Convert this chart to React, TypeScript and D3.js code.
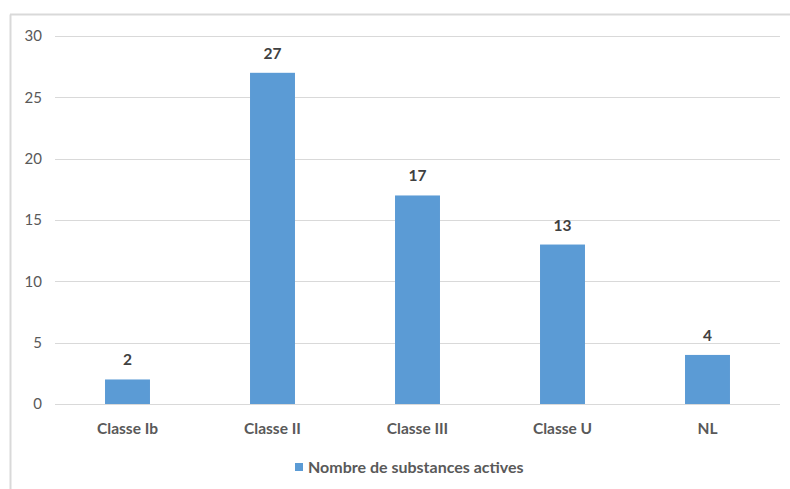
import React from "react";
import * as d3 from "d3";

const categories = ["Classe Ib", "Classe II", "Classe III", "Classe U", "NL"];
const values = [2, 27, 17, 13, 4];
const yTicks = [0, 5, 10, 15, 20, 25, 30];
const seriesName = "Nombre de substances actives";

export default function App() {
  const W = 790, H = 489;
  const left = 55, right = 780, top = 36, bottom = 404;
  const x = d3.scaleBand<string>().domain(categories).range([left, right]).paddingInner(0.69).paddingOuter(0.345);
  const y = d3.scaleLinear().domain([0, 30]).range([bottom, top]);
  const font = "Lato, 'Open Sans', sans-serif";
  return (
    <svg width={W} height={H} style={{ position: "absolute", left: 0, top: 0 }}>
      <rect x={0} y={0} width={W} height={H} fill="#fff" />
      <line x1={10.5} y1={14.5} x2={10.5} y2={H} stroke="#d9d9d9" strokeWidth={2} />
      <line x1={10} y1={14.5} x2={W} y2={14.5} stroke="#d9d9d9" strokeWidth={2} />
      {yTicks.map((t) => (
        <g key={t}>
          <line x1={left} x2={right} y1={Math.round(y(t)) + 0.5} y2={Math.round(y(t)) + 0.5} stroke="#d9d9d9" strokeWidth={1} />
          <text x={42} y={y(t)} dy="0.35em" textAnchor="end" fontFamily={font} fontSize={15} fill="#595959">{t}</text>
        </g>
      ))}
      {categories.map((c, i) => (
        <g key={c}>
          <rect x={x(c)} y={y(values[i])} width={x.bandwidth()} height={bottom - y(values[i])} fill="#5b9bd5" />
          <text x={(x(c) as number) + x.bandwidth() / 2} y={y(values[i]) - 14} textAnchor="middle" fontFamily={font} fontWeight="bold" fontSize={15.5} fill="#404040">{values[i]}</text>
          <text x={(x(c) as number) + x.bandwidth() / 2} y={429} dy="0.35em" textAnchor="middle" fontFamily={font} fontWeight="bold" fontSize={15.5} fill="#595959">{c}</text>
        </g>
      ))}
      <rect x={295} y={463} width={8} height={8} fill="#5b9bd5" />
      <text x={308} y={467} dy="0.35em" fontFamily={font} fontWeight="bold" fontSize={16} fill="#595959">{seriesName}</text>
    </svg>
  );
}
